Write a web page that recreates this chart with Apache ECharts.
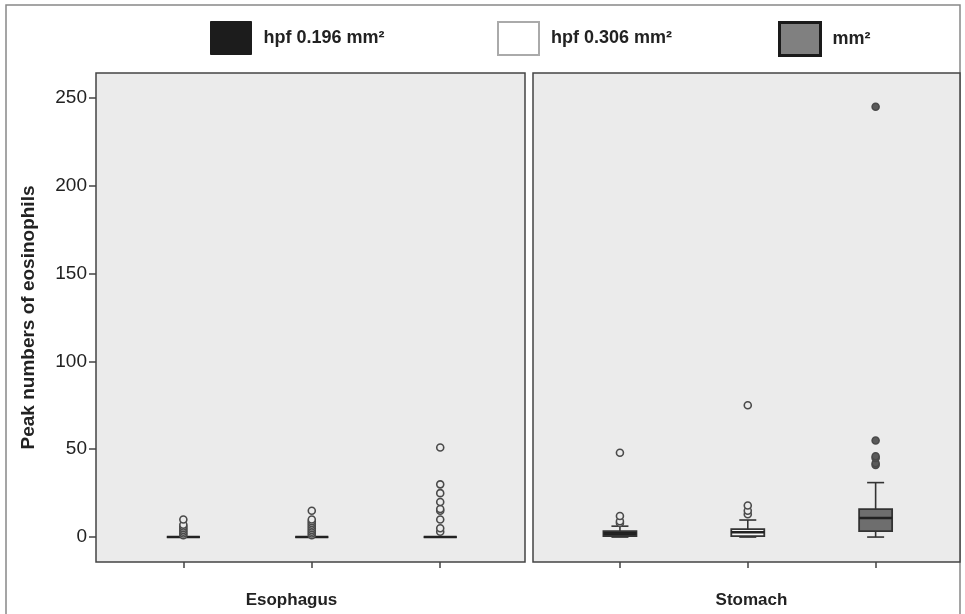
<!DOCTYPE html>
<html><head><meta charset="utf-8">
<script src="https://cdn.jsdelivr.net/npm/echarts@6/dist/echarts.min.js"></script>
<style>html,body{margin:0;padding:0;background:#fff}#c{width:965px;height:614px}</style>
</head><body><div id="c"></div>
<script>
// ---- data ----
const categories = ['hpf 0.196 mm\u00B2', 'hpf 0.306 mm\u00B2', 'mm\u00B2'];
const sites = ['Esophagus', 'Stomach'];
const yTicks = [0, 50, 100, 150, 200, 250];
// box stats: [min, Q1, median, Q3, max]
const esophagusBoxes = [[0,0,0,0,0],[0,0,0,0,0],[0,0,0,0,0]];
const stomachBoxes = [[0,0.6,2,3.4,6.2],[0,0.5,2.8,4.5,9.7],[0,3.4,10.8,15.9,31]];
const esophagusOutliers = [[1,2,3,4,5,6,7,10],[1,2,3,4,5,6,7,8,9,10,15],[3,5,10,15,16,20,25,30,51]];
const stomachOutliers = [[8,9,12,48],[13,15,18,75],[41,42,45,46,55,245]];

const boxes = [esophagusBoxes, stomachBoxes];
const outliers = [esophagusOutliers, stomachOutliers];

const boxFill = ['#1e1e1e', '#f7f7f7', '#6e6e6e'];
const outFill = [['#ebebeb','#ebebeb','#ebebeb'], ['#ebebeb','#ebebeb','#5a5a5a']];
const legendStyles = [
  {color:'#1c1c1c', borderColor:'#1c1c1c', borderWidth:1},
  {color:'#ffffff', borderColor:'#aaaaaa', borderWidth:2},
  {color:'#808080', borderColor:'#1a1a1a', borderWidth:3}
];

const chart = echarts.init(document.getElementById('c'));
const FONT = 'Liberation Sans, Arial, sans-serif';

function renderBox(params, api) {
  const x = api.value(0);
  const p = [1,2,3,4,5].map(i => api.coord([x, api.value(i)]));
  const cx = p[0][0];
  const bw = 33, cw = 17;
  const st = {stroke:'#333', lineWidth:1.6};
  return {type:'group', children:[
    {type:'line', shape:{x1:cx,y1:p[0][1],x2:cx,y2:p[1][1]}, style:st},
    {type:'line', shape:{x1:cx,y1:p[3][1],x2:cx,y2:p[4][1]}, style:st},
    {type:'line', shape:{x1:cx-cw/2,y1:p[0][1],x2:cx+cw/2,y2:p[0][1]}, style:st},
    {type:'line', shape:{x1:cx-cw/2,y1:p[4][1],x2:cx+cw/2,y2:p[4][1]}, style:st},
    {type:'rect', shape:{x:cx-bw/2,y:p[3][1],width:bw,height:p[1][1]-p[3][1]}, style:{fill:boxFill[api.value(0)], stroke:'#333', lineWidth:1.8}},
    {type:'line', shape:{x1:cx-bw/2,y1:p[2][1],x2:cx+bw/2,y2:p[2][1]}, style:{stroke:'#222', lineWidth:2.5}}
  ]};
}

const grids = [
  {left:96, top:73, width:429, height:490},
  {left:533, top:73, width:427, height:490}
].map(g => Object.assign(g, {show:true, backgroundColor:'#ebebeb', borderColor:'#444', borderWidth:1.5}));

const namePads = [[0, 38, 0, 0], [0, 0, 0, 10]];
const xAxes = sites.map((s, i) => ({
  type:'value', gridIndex:i, min:-0.68, max:2.66, position:'bottom',
  axisLine:{show:false, onZero:false}, splitLine:{show:false},
  axisTick:{show:true, customValues:[0,1,2], length:6, lineStyle:{color:'#444', width:1.5}},
  axisLabel:{show:false, customValues:[0,1,2]},
  name:s, nameLocation:'middle', nameGap:30,
  nameTextStyle:{fontFamily:FONT, fontWeight:'bold', fontSize:17, color:'#222', padding:namePads[i]}
}));
const yAxes = sites.map((s, i) => ({
  type:'value', gridIndex:i, min:-14.2, max:264.2, position:'left',
  axisLine:{show:false, onZero:false}, splitLine:{show:false},
  axisTick:{show:i===0, customValues:yTicks, length:7, lineStyle:{color:'#444', width:1.5}},
  axisLabel:{show:i===0, customValues:yTicks, fontFamily:FONT, fontSize:19, color:'#222', margin:9},
  name: i===0 ? 'Peak numbers of eosinophils' : '', nameLocation:'middle', nameGap:58,
  nameTextStyle:{fontFamily:FONT, fontWeight:'bold', fontSize:19, color:'#222'}
}));

const series = [];
sites.forEach((s, si) => {
  categories.forEach((c, ci) => {
    series.push({
      type:'custom', name:c, xAxisIndex:si, yAxisIndex:si,
      renderItem:renderBox, z:2, silent:true,
      itemStyle:{color:legendStyles[ci].color},
      data:[[ci].concat(boxes[si][ci])]
    });
    series.push({
      type:'scatter', name:c, xAxisIndex:si, yAxisIndex:si, z:3, silent:true,
      symbol:'circle', symbolSize:7,
      itemStyle:{color:outFill[si][ci], borderColor:'#4a4a4a', borderWidth:1.6, opacity:1},
      data:outliers[si][ci].map(v => [ci, v])
    });
  });
});

const legendLefts = [205, 492, 773];
const legends = categories.map((c, i) => ({
  top:16, left:legendLefts[i], itemWidth:41, itemHeight:33, icon:'rect',
  selectedMode:false,
  textStyle:{fontFamily:FONT, fontWeight:'bold', fontSize:18, color:'#222', padding:[0,0,0,7]},
  data:[{name:c, icon:'rect', itemStyle:legendStyles[i]}]
}));

chart.setOption({
  animation:false,
  backgroundColor:'#ffffff',
  textStyle:{fontFamily:FONT},
  grid:grids, xAxis:xAxes, yAxis:yAxes,
  legend:legends,
  graphic:[{type:'rect', shape:{x:6, y:5, width:954, height:650}, style:{fill:'none', stroke:'#888', lineWidth:1.5}, z:-1}],
  series:series
});
</script></body></html>
